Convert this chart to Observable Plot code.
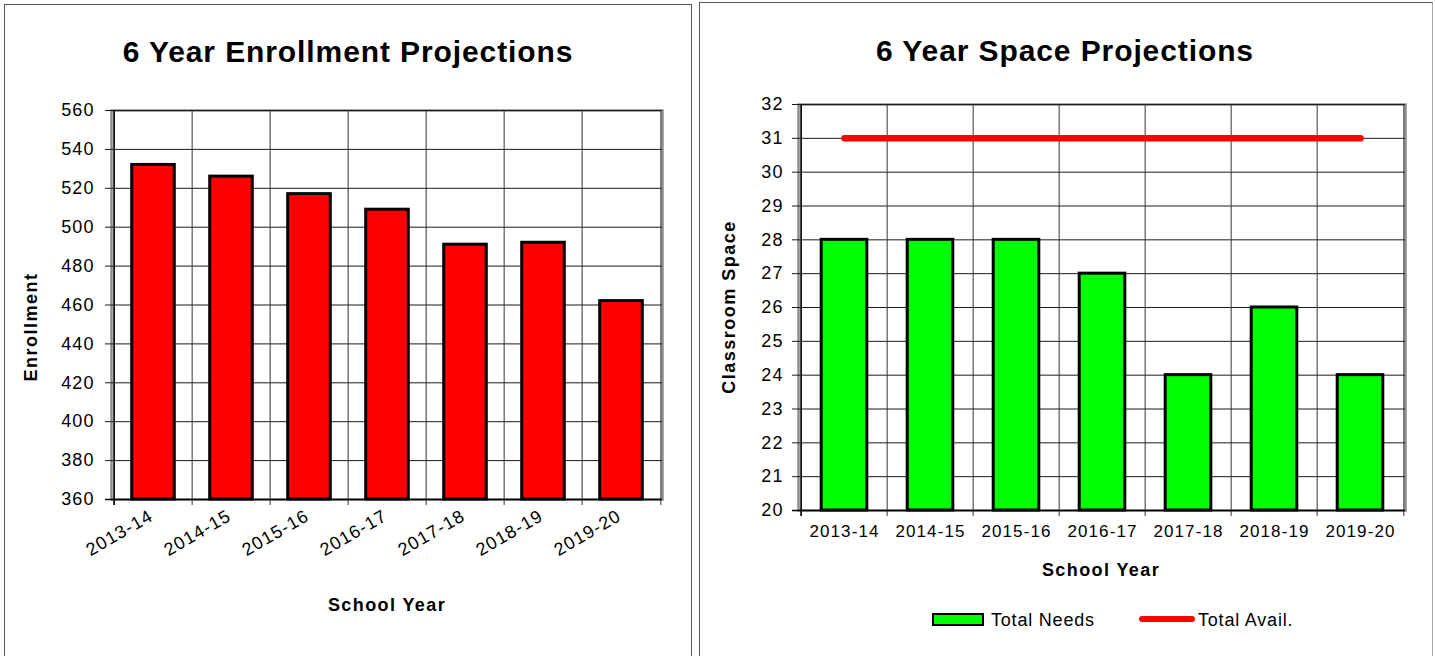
<!DOCTYPE html>
<html><head><meta charset="utf-8">
<script src="https://cdn.jsdelivr.net/npm/d3@7"></script>
<script src="https://cdn.jsdelivr.net/npm/@observablehq/plot@0.6"></script>
<style>
body{margin:0;background:#fff;font-family:Arial,"Liberation Sans",sans-serif;color:#000;}
#root{position:relative;width:1435px;height:656px;overflow:hidden;background:#fff;}
.panel{position:absolute;border:1.5px solid #555;box-sizing:border-box;}
.chart{position:absolute;top:0;}
.title{position:absolute;font-weight:bold;font-size:30px;letter-spacing:0.9px;transform:translate(-50%,-50%);white-space:nowrap;}
.alabel{position:absolute;font-weight:bold;font-size:18px;letter-spacing:1.4px;transform:translate(-50%,-50%);white-space:nowrap;}
.ylabel{position:absolute;font-weight:bold;font-size:18px;letter-spacing:1.5px;transform:translate(-50%,-50%) rotate(-90deg);white-space:nowrap;}
.leg{position:absolute;font-size:18px;letter-spacing:0.8px;white-space:nowrap;transform:translateY(-50%);}
</style></head><body><div id="root"></div>
<script>
// ---- data ----
const years = ["2013-14","2014-15","2015-16","2016-17","2017-18","2018-19","2019-20"];
const enrollment = [532,526,517,509,491,492,462];
const enrollmentTicks = [360,380,400,420,440,460,480,500,520,540,560];
const totalNeeds = [28,28,28,27,24,26,24];
const totalAvail = [31,31,31,31,31,31,31];
const spaceTicks = [20,21,22,23,24,25,26,27,28,29,30,31,32];
const titles = ["6 Year Enrollment Projections","6 Year Space Projections"];
const seriesNames = ["Total Needs","Total Avail."];

const root = document.getElementById("root");
function add(cls, text, css){ const d=document.createElement("div"); d.className=cls; if(text!=null) d.textContent=text; Object.assign(d.style, css); root.appendChild(d); return d; }

// panels
add("panel", null, {left:"4px", top:"4px", width:"688px", height:"700px"});
add("panel", null, {left:"699px", top:"2px", width:"734px", height:"700px", borderRightColor:"#aaa"});

const baseStyle = {fontFamily:'Arial,"Liberation Sans",sans-serif', fontSize:"18px", letterSpacing:"1.1px", color:"#000", background:"transparent", overflow:"visible"};

// ---- left chart ----
const LW = 691, LH = 656, Lm = {left:111, right:29, top:110, bottom:157};
const stepL = (LW - Lm.left - Lm.right) / years.length;
const enrollData = years.map((year,i)=>({year, value: enrollment[i]}));
const leftChart = Plot.plot({
  width: LW, height: LH,
  marginLeft: Lm.left, marginRight: Lm.right, marginTop: Lm.top, marginBottom: Lm.bottom,
  x: {domain: years, padding: 0},
  y: {domain: [enrollmentTicks[0], enrollmentTicks[enrollmentTicks.length-1]]},
  style: baseStyle,
  marks: [
    Plot.frame({stroke:"#8c8c8c", strokeWidth:2.5}),
    Plot.ruleY(enrollmentTicks, {stroke:"#1a1a1a", strokeWidth:1, insetLeft:-6}),
    Plot.ruleX(years, {x: d=>d, dx: -stepL/2, stroke:"#333", strokeWidth:1, insetBottom:-6}),
    Plot.ruleX(years.slice(-1), {x: d=>d, dx: stepL/2, stroke:"#333", strokeWidth:1, insetBottom:-6}),
    Plot.barY(enrollData, {x:"year", y1: enrollmentTicks[0], y2:"value", fill:"#ff0000", stroke:"#000", strokeWidth:3, insetLeft: stepL*0.225, insetRight: stepL*0.225}),
    Plot.ruleY(enrollmentTicks.slice(0,1), {stroke:"#000", strokeWidth:1.5, insetLeft:-6}),
    Plot.ruleX(years.slice(0,1), {x: d=>d, dx: -stepL/2, stroke:"#000", strokeWidth:1.5, insetBottom:-6}),
    Plot.axisY({ticks: enrollmentTicks, tickSize:0, tickPadding:17, fontSize:18, label:null}),
    Plot.axisX({tickSize:0, tickRotate:-30, tickPadding:15, dx:-2, fontSize:18, label:null})
  ]
});
leftChart.classList.add("chart");
leftChart.style.left = "0px";
root.appendChild(leftChart);

add("title", titles[0], {left:"348px", top:"52px"});
add("ylabel", "Enrollment", {left:"31px", top:"327px"});
add("alabel", "School Year", {left:"387px", top:"605px"});

// ---- right chart ----
const RX = 699, RW = 736, RH = 656, Rm = {left:99, right:30, top:104, bottom:146};
const stepR = (RW - Rm.left - Rm.right) / years.length;
const needsData = years.map((year,i)=>({year, value: totalNeeds[i]}));
const availData = years.map((year,i)=>({year, value: totalAvail[i]}));
const rightChart = Plot.plot({
  width: RW, height: RH,
  marginLeft: Rm.left, marginRight: Rm.right, marginTop: Rm.top, marginBottom: Rm.bottom,
  x: {domain: years, padding: 0},
  y: {domain: [spaceTicks[0], spaceTicks[spaceTicks.length-1]]},
  style: baseStyle,
  marks: [
    Plot.frame({stroke:"#8c8c8c", strokeWidth:2.5}),
    Plot.ruleY(spaceTicks, {stroke:"#1a1a1a", strokeWidth:1, insetLeft:-6}),
    Plot.ruleX(years, {x: d=>d, dx: -stepR/2, stroke:"#333", strokeWidth:1, insetBottom:-6}),
    Plot.ruleX(years.slice(-1), {x: d=>d, dx: stepR/2, stroke:"#333", strokeWidth:1, insetBottom:-6}),
    Plot.barY(needsData, {x:"year", y1: spaceTicks[0], y2:"value", fill:"#00ff00", stroke:"#000", strokeWidth:3, insetLeft: stepR*0.233, insetRight: stepR*0.233}),
    Plot.lineY(availData, {x:"year", y:"value", stroke:"#ff0000", strokeWidth:6.5, strokeLinecap:"round"}),
    Plot.ruleY(spaceTicks.slice(0,1), {stroke:"#000", strokeWidth:1.5, insetLeft:-6}),
    Plot.ruleX(years.slice(0,1), {x: d=>d, dx: -stepR/2, stroke:"#000", strokeWidth:1.5, insetBottom:-6}),
    Plot.axisY({ticks: spaceTicks, tickSize:0, tickPadding:15, fontSize:18, label:null}),
    Plot.axisX({tickSize:0, tickPadding:14, fontSize:17, label:null})
  ]
});
rightChart.classList.add("chart");
rightChart.style.left = RX + "px";
root.appendChild(rightChart);

add("title", titles[1], {left:"1065px", top:"51px"});
add("ylabel", "Classroom Space", {left:"729px", top:"307px"});
add("alabel", "School Year", {left:"1101px", top:"570px"});

// legend
add("", null, {position:"absolute", left:"932px", top:"613px", width:"52px", height:"13px", background:"#00ff00", border:"2.5px solid #000", boxSizing:"border-box"});
add("leg", seriesNames[0], {left:"991px", top:"620px"});
add("", null, {position:"absolute", left:"1139px", top:"616px", width:"56px", height:"6px", background:"#ff0000", borderRadius:"3px"});
add("leg", seriesNames[1], {left:"1198px", top:"620px"});
</script>
</body></html>
